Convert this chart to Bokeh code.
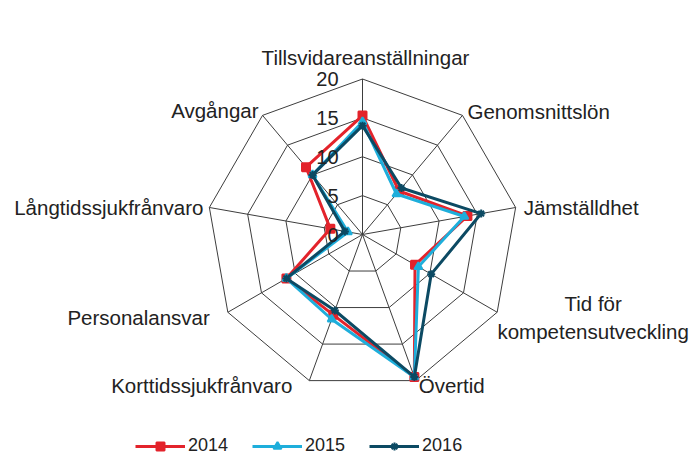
import math
from bokeh.plotting import figure
from bokeh.models import Range1d, Legend, LegendItem, ColumnDataSource
from bokeh.embed import file_html
from bokeh.resources import INLINE
from bokeh.core.properties import value

# ---- data ----
categories = ["Tillsvidareanställningar", "Genomsnittslön", "Jämställdhet",
              "Tid för\nkompetensutveckling", "Övertid", "Korttidssjukfrånvaro",
              "Personalansvar", "Långtidssjukfrånvaro", "Avgångar"]
tick_values = [0, 5, 10, 15, 20]
tick_labels = ["0", "5", "10", "15", "20"]
years = ["2014", "2015", "2016"]
values_2014 = [15.3, 7.3, 13.7, 7.8, 19.5, 11.0, 11.3, 4.2, 11.3]
values_2015 = [14.5, 6.8, 13.3, 8.3, 19.5, 11.6, 11.3, 1.9, 10.0]
values_2016 = [14.0, 7.8, 15.5, 10.2, 19.5, 10.4, 11.3, 2.3, 10.0]

# ---- styling ----
W, H = 696, 456
cx_px, cy_px = 362, 234        # centre of the web in canvas pixels
R_MAX = 20
px_per_unit = 155.5 / R_MAX
FONT = "Liberation Sans"
colors = ["#E3232B", "#1EAEDB", "#0C4A63"]
markers = ["square", "triangle", "asterisk"]

p = figure(width=W, height=H,
           x_range=Range1d(-cx_px / px_per_unit, (W - cx_px) / px_per_unit),
           y_range=Range1d(-(H - cy_px) / px_per_unit, cy_px / px_per_unit),
           output_backend="svg", toolbar_location=None, min_border=0)
p.axis.visible = False
p.grid.visible = False
p.outline_line_color = None
p.background_fill_color = "white"

n = len(categories)
angles = [math.pi / 2 - i * 2 * math.pi / n for i in range(n)]

def to_xy(vals):
    xs = [v * math.cos(a) for v, a in zip(vals, angles)]
    ys = [v * math.sin(a) for v, a in zip(vals, angles)]
    return xs + [xs[0]], ys + [ys[0]]

# grid rings
for t in tick_values[1:]:
    xs, ys = to_xy([t] * n)
    p.line(xs, ys, line_color="#3d3d3d", line_width=1)
# spokes
ox, oy = to_xy([R_MAX] * n)
p.segment(x0=[0] * n, y0=[0] * n, x1=ox[:-1], y1=oy[:-1], line_color="#3d3d3d", line_width=1)

# series
items = []
for name, vals, col, mk in zip(years, [values_2014, values_2015, values_2016], colors, markers):
    xs, ys = to_xy(vals)
    lr = p.line(xs, ys, line_color=col, line_width=3)
    sr = p.scatter(xs[:-1], ys[:-1], marker=mk, size=8, fill_color=col, line_color=col, line_width=2)
    items.append(LegendItem(label=name, renderers=[lr, sr]))

# tick labels along top spoke
p.text(x=[0] * len(tick_values), y=tick_values, text=tick_labels,
       text_font=value(FONT), text_font_size="20px", text_color="#222222",
       text_align="right", text_baseline="middle", x_offset=-24)

# category labels
label_align = ["center", "left", "left", "center", "left", "right", "right", "right", "right"]
label_dx = [3, 5, 8, 96, 3, -17, -18, -6, -4]
label_dy = [-22, -4, 0, 5, 5, 5, 5, 0, -5]
lsrc = ColumnDataSource(dict(x=ox[:-1], y=oy[:-1], text=categories, align=label_align,
                             dx=label_dx, dy=label_dy))
p.text(x="x", y="y", text="text", source=lsrc, text_align="align", text_baseline="middle",
       x_offset="dx", y_offset="dy", text_font=value(FONT), text_font_size="20.5px",
       text_color="#222222", text_line_height=1.2)

legend = Legend(items=items, orientation="horizontal", location=(135, 0),
                glyph_width=50, glyph_height=20, label_standoff=3, spacing=24,
                padding=0, margin=0, border_line_alpha=0, background_fill_alpha=0,
                label_text_font=FONT, label_text_font_size="18px", label_text_color="#222222")
p.add_layout(legend)

open("out.html", "w").write(file_html(p, INLINE))
